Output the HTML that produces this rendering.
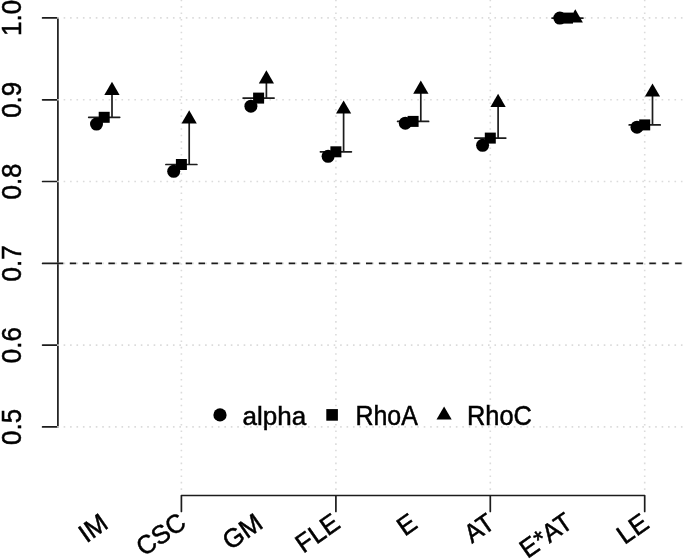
<!DOCTYPE html>
<html><head><meta charset="utf-8"><title>Reliability plot</title>
<style>
html,body{margin:0;padding:0;background:#fff;}
svg{display:block;}
text{font-family:"Liberation Sans",sans-serif;font-size:26px;fill:#000;stroke:#000;stroke-width:0.5px;}
.ax{stroke:#1c1c1c;stroke-width:1.7;fill:none;stroke-linecap:round;}
.gr{stroke:#dbdbdb;stroke-width:1.6;fill:none;stroke-dasharray:1.6 4.83;}
</style></head><body>
<svg width="685" height="559" viewBox="0 0 685 559">
<rect width="685" height="559" fill="#fff"/>
<path class="ax" d="M57.9 17.9V426.9M42.6 17.9H57.9M42.6 99.8H57.9M42.6 181.5H57.9M42.6 263.4H57.9M42.6 345.1H57.9M42.6 426.9H57.9"/>
<text transform="translate(21 17.9) rotate(-90) scale(1 1.05)" text-anchor="middle">1.0</text>
<text transform="translate(21 99.8) rotate(-90) scale(1 1.05)" text-anchor="middle">0.9</text>
<text transform="translate(21 181.5) rotate(-90) scale(1 1.05)" text-anchor="middle">0.8</text>
<text transform="translate(21 263.4) rotate(-90) scale(1 1.05)" text-anchor="middle">0.7</text>
<text transform="translate(21 345.1) rotate(-90) scale(1 1.05)" text-anchor="middle">0.6</text>
<text transform="translate(21 426.9) rotate(-90) scale(1 1.05)" text-anchor="middle">0.5</text>
<path class="ax" d="M181.4 495.5H644.7M181.4 495.5V511.5M335.9 495.5V511.5M490.3 495.5V511.5M644.7 495.5V511.5"/>
<text transform="translate(104.5 519.5) rotate(-35) scale(0.985 1)" text-anchor="end" dy="9.3">IM</text>
<text transform="translate(182.4 518.6) rotate(-35) scale(0.975 1)" text-anchor="end" dy="9.3">CSC</text>
<text transform="translate(259.2 519.2) rotate(-35) scale(1 1)" text-anchor="end" dy="9.3">GM</text>
<text transform="translate(336.5 519.2) rotate(-35) scale(0.985 1)" text-anchor="end" dy="9.3">FLE</text>
<text transform="translate(413.7 519.2) rotate(-35) scale(1 1)" text-anchor="end" dy="9.3">E</text>
<text transform="translate(490.9 519.2) rotate(-35) scale(0.95 1)" text-anchor="end" dy="9.3">AT</text>
<text transform="translate(569.1 518.5) rotate(-35) scale(0.975 1)" text-anchor="end" dy="9.3">E*AT</text>
<text transform="translate(645.3 519.2) rotate(-35) scale(1 1)" text-anchor="end" dy="9.3">LE</text>
<line class="gr" x1="57.2" y1="17.9" x2="686" y2="17.9"/>
<line class="gr" x1="57.2" y1="99.8" x2="686" y2="99.8"/>
<line class="gr" x1="57.2" y1="181.5" x2="686" y2="181.5"/>
<line class="gr" x1="57.2" y1="263.4" x2="686" y2="263.4"/>
<line class="gr" x1="57.2" y1="345.1" x2="686" y2="345.1"/>
<line class="gr" x1="57.2" y1="426.9" x2="686" y2="426.9"/>
<line class="gr" x1="181.4" y1="489.9" x2="181.4" y2="-2"/>
<line class="gr" x1="335.9" y1="489.9" x2="335.9" y2="-2"/>
<line class="gr" x1="490.3" y1="489.9" x2="490.3" y2="-2"/>
<line class="gr" x1="644.7" y1="489.9" x2="644.7" y2="-2"/>
<line x1="56.9" y1="263.4" x2="686" y2="263.4" stroke="#1c1c1c" stroke-width="1.6" stroke-dasharray="6.44 6.44"/>
<path class="ax" d="M88.7 117.3H119.7M112.0 117.3V90.5"/>
<circle cx="96.5" cy="124.1" r="6.5" fill="#000"/>
<rect x="98.7" y="111.8" width="11" height="11" fill="#000"/>
<polygon points="112.0,81.7 119.6,94.9 104.3,94.9" fill="#000"/>
<path class="ax" d="M165.9 164.5H196.9M189.2 164.5V119.0"/>
<circle cx="173.7" cy="171.3" r="6.5" fill="#000"/>
<rect x="175.9" y="159.0" width="11" height="11" fill="#000"/>
<polygon points="189.2,110.2 196.8,123.4 181.5,123.4" fill="#000"/>
<path class="ax" d="M243.1 98.1H274.1M266.4 98.1V79.0"/>
<circle cx="250.9" cy="106.2" r="6.5" fill="#000"/>
<rect x="253.1" y="92.6" width="11" height="11" fill="#000"/>
<polygon points="266.4,70.2 274.0,83.4 258.8,83.4" fill="#000"/>
<path class="ax" d="M320.4 151.8H351.4M343.6 151.8V109.2"/>
<circle cx="328.1" cy="156.3" r="6.5" fill="#000"/>
<rect x="330.4" y="146.3" width="11" height="11" fill="#000"/>
<polygon points="343.6,100.4 351.2,113.6 336.0,113.6" fill="#000"/>
<path class="ax" d="M397.6 121.4H428.6M420.8 121.4V89.4"/>
<circle cx="405.3" cy="123.2" r="6.5" fill="#000"/>
<rect x="407.6" y="115.9" width="11" height="11" fill="#000"/>
<polygon points="420.8,80.6 428.5,93.8 413.2,93.8" fill="#000"/>
<path class="ax" d="M474.8 138.1H505.8M498.1 138.1V102.6"/>
<circle cx="482.6" cy="145.3" r="6.5" fill="#000"/>
<rect x="484.8" y="132.6" width="11" height="11" fill="#000"/>
<polygon points="498.1,93.8 505.7,107.0 490.4,107.0" fill="#000"/>
<path class="ax" d="M552.0 18.1H583.0M575.3 18.1V18.1"/>
<circle cx="559.8" cy="18.1" r="6.5" fill="#000"/>
<rect x="562.0" y="12.6" width="11" height="11" fill="#000"/>
<polygon points="575.3,9.3 582.9,22.5 567.6,22.5" fill="#000"/>
<path class="ax" d="M629.2 124.9H660.2M652.5 124.9V92.2"/>
<circle cx="637.0" cy="127.2" r="6.5" fill="#000"/>
<rect x="639.2" y="119.4" width="11" height="11" fill="#000"/>
<polygon points="652.5,83.4 660.1,96.6 644.9,96.6" fill="#000"/>
<circle cx="220" cy="414.9" r="6.6" fill="#000"/>
<rect x="326.3" y="409.1" width="11.6" height="11.6" fill="#000"/>
<polygon points="444.1,406.4 451.7,419.6 436.5,419.6" fill="#000"/>
<text x="242.5" y="424.5">alpha</text>
<text transform="translate(355.4 424.5) scale(0.96 1.03)">RhoA</text>
<text transform="translate(467 424.5) scale(0.975 1.03)">RhoC</text>
</svg></body></html>
